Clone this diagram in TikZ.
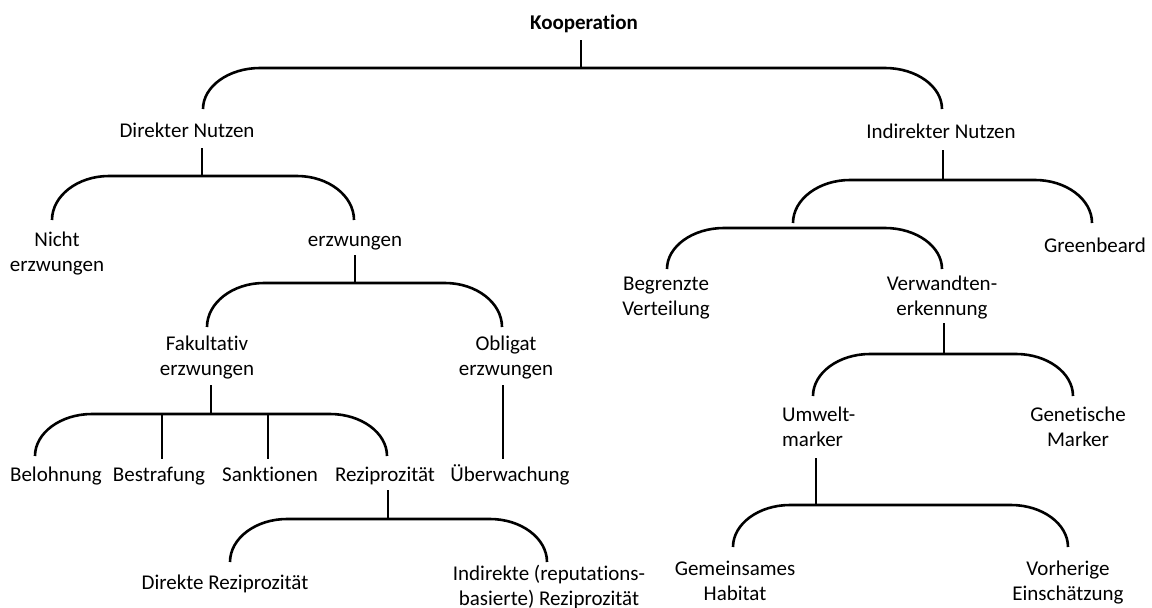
\documentclass[tikz,border=0pt]{standalone}
\usepackage{fontspec}
\setmainfont{Carlito}[Ligatures={NoCommon,NoDiscretionary,NoContextual}]
\usetikzlibrary{calc}
\newcommand\lbltxt[1]{\begin{tabular}[t]{@{}c@{}}#1\end{tabular}}
\newcommand\lbltxtl[1]{\begin{tabular}[t]{@{}l@{}}#1\end{tabular}}
% bracket: left arm end, right arm end, vertical rise
\newcommand\brk[3]{\draw[conn] (#1) .. controls +(0,-0.55*#3) and +(-0.55*57,0) .. ++(57,-#3) -- ($(#2)+(-57,-#3)$) .. controls +(0.55*57,0) and +(0,-0.55*#3) .. (#2);}
\begin{document}
\begin{tikzpicture}[x=1pt,y=-1pt,
  lbl/.style={anchor=base,inner sep=0pt,font=\fontsize{21}{25}\selectfont},
  conn/.style={line width=2.6pt,black}]
\useasboundingbox (0,0) rectangle (1152,608);
% labels
\node[lbl,font=\fontsize{21}{25}\selectfont\bfseries] (koop) at (584,29) {\lbltxt{Kooperation}};
\node[lbl] (dn) at (187,137) {\lbltxt{Direkter Nutzen}};
\node[lbl] (in) at (941,138) {\lbltxt{Indirekter Nutzen}};
\node[lbl] (ne) at (57,246) {\lbltxt{Nicht\\erzwungen}};
\node[lbl] (erz) at (355,246) {\lbltxt{erzwungen}};
\node[lbl] (fak) at (207,350) {\lbltxt{Fakultativ\\erzwungen}};
\node[lbl] (obl) at (506,350) {\lbltxt{Obligat\\erzwungen}};
\node[lbl] (bel) at (56,481) {\lbltxt{Belohnung}};
\node[lbl] (bes) at (159,481) {\lbltxt{Bestrafung}};
\node[lbl] (san) at (270,481) {\lbltxt{Sanktionen}};
\node[lbl] (rez) at (385,481) {\lbltxt{Reziprozität}};
\node[lbl] (ueb) at (510,481) {\lbltxt{Überwachung}};
\node[lbl] (drz) at (225,589) {\lbltxt{Direkte Reziprozität}};
\node[lbl] (irz) at (549,580) {\lbltxt{Indirekte (reputations-\\basierte) Reziprozität}};
\node[lbl] (gb) at (1095,252) {\lbltxt{Greenbeard}};
\node[lbl] (bv) at (666,290) {\lbltxt{Begrenzte\\Verteilung}};
\node[lbl] (vw) at (942,290) {\lbltxt{Verwandten-\\erkennung}};
\node[lbl,anchor=base west] (um) at (782,421) {\lbltxtl{Umwelt-\\marker}};
\node[lbl] (gm) at (1078,421) {\lbltxt{Genetische\\Marker}};
\node[lbl] (gh) at (735,575) {\lbltxt{Gemeinsames\\Habitat}};
\node[lbl] (ve) at (1068,575) {\lbltxt{Vorherige\\Einschätzung}};
% connector end points
\coordinate (s1a) at (581,40);  \coordinate (s1b) at (581,68);
\coordinate (a1L) at (203,109); \coordinate (a1R) at (942,109);
\coordinate (s2a) at (202,148); \coordinate (s2b) at (202,176);
\coordinate (a2L) at (52,220);  \coordinate (a2R) at (354,220);
\coordinate (s3a) at (355,255); \coordinate (s3b) at (355,283);
\coordinate (a3L) at (207,327); \coordinate (a3R) at (502,327);
\coordinate (s4a) at (211,385); \coordinate (s4b) at (211,414);
\coordinate (a4L) at (35,456);  \coordinate (a4R) at (387,456);
\coordinate (m4a) at (162,414); \coordinate (m4b) at (162,459);
\coordinate (m4c) at (268,414); \coordinate (m4d) at (268,459);
\coordinate (oba) at (503,385); \coordinate (obb) at (503,459);
\coordinate (s5a) at (388,490); \coordinate (s5b) at (388,519);
\coordinate (a5L) at (230,562); \coordinate (a5R) at (547,562);
\coordinate (s6a) at (943,150); \coordinate (s6b) at (943,180);
\coordinate (a6L) at (793,223); \coordinate (a6R) at (1092,223);
\coordinate (a7L) at (667,269); \coordinate (a7R) at (942,269);
\coordinate (s8a) at (944,323); \coordinate (s8b) at (944,354);
\coordinate (a8L) at (813,396); \coordinate (a8R) at (1073,396);
\coordinate (s9a) at (816,458); \coordinate (s9b) at (816,505);
\coordinate (a9L) at (733,547); \coordinate (a9R) at (1068,547);
% connectors
\draw[conn] (s1a) -- (s1b); \brk{a1L}{a1R}{41}
\draw[conn] (s2a) -- (s2b); \brk{a2L}{a2R}{44}
\draw[conn] (s3a) -- (s3b); \brk{a3L}{a3R}{44}
\draw[conn] (s4a) -- (s4b); \brk{a4L}{a4R}{42}
\draw[conn] (m4a) -- (m4b); \draw[conn] (m4c) -- (m4d);
\draw[conn] (oba) -- (obb);
\draw[conn] (s5a) -- (s5b); \brk{a5L}{a5R}{43}
\draw[conn] (s6a) -- (s6b); \brk{a6L}{a6R}{43}
\brk{a7L}{a7R}{41}
\draw[conn] (s8a) -- (s8b); \brk{a8L}{a8R}{42}
\draw[conn] (s9a) -- (s9b); \brk{a9L}{a9R}{42}
\end{tikzpicture}
\end{document}
